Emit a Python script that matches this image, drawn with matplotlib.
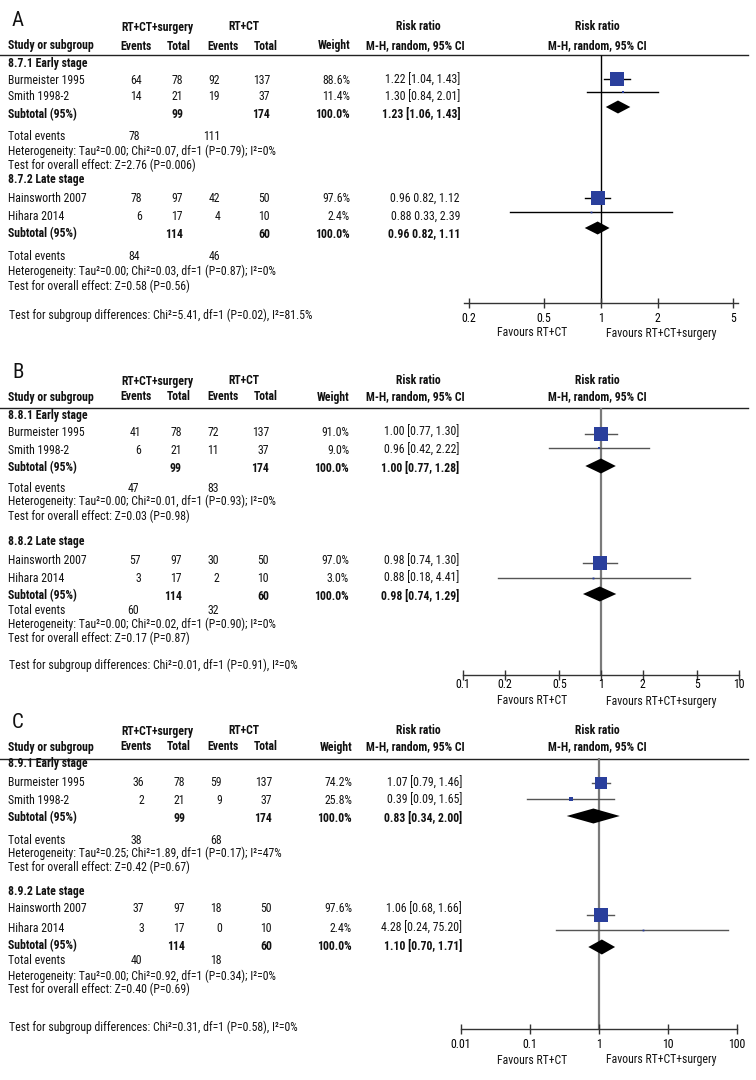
import matplotlib
matplotlib.use("Agg")
import matplotlib.pyplot as plt
from matplotlib import font_manager
from matplotlib.font_manager import FontProperties
import math, os, glob

# ---------------- data ----------------
study_names = ["Burmeister 1995", "Smith 1998-2", "Hainsworth 2007", "Hihara 2014"]
subgroup_titles = {"A": ["8.7.1 Early stage", "8.7.2 Late stage"],
                   "B": ["8.8.1 Early stage", "8.8.2 Late stage"],
                   "C": ["8.9.1 Early stage", "8.9.2 Late stage"]}
total_surg = [78, 21, 97, 17]
total_ctrl = [137, 37, 50, 10]
sub_total_surg = [99, 114]
sub_total_ctrl = [174, 60]

A_ev_surg = [64, 14, 78, 6]
A_ev_ctrl = [92, 19, 42, 4]
A_weight = [88.6, 11.4, 97.6, 2.4]
A_rr = [1.22, 1.30, 0.96, 0.88]
A_lo = [1.04, 0.84, 0.82, 0.33]
A_hi = [1.43, 2.01, 1.12, 2.39]
A_sub_rr = [1.23, 0.96]
A_sub_lo = [1.06, 0.82]
A_sub_hi = [1.43, 1.11]
A_sub_ev_surg = [78, 84]
A_sub_ev_ctrl = [111, 46]
A_het = ["Heterogeneity: Tau²=0.00; Chi²=0.07, df=1 (P=0.79); I²=0%",
         "Heterogeneity: Tau²=0.00; Chi²=0.03, df=1 (P=0.87); I²=0%"]
A_overall = ["Test for overall effect: Z=2.76 (P=0.006)",
             "Test for overall effect: Z=0.58 (P=0.56)"]
A_diff = "Test for subgroup differences: Chi²=5.41, df=1 (P=0.02), I²=81.5%"
A_ticks = [0.2, 0.5, 1, 2, 5]
A_ticklabels = ["0.2", "0.5", "1", "2", "5"]

B_ev_surg = [41, 6, 57, 3]
B_ev_ctrl = [72, 11, 30, 2]
B_weight = [91.0, 9.0, 97.0, 3.0]
B_rr = [1.00, 0.96, 0.98, 0.88]
B_lo = [0.77, 0.42, 0.74, 0.18]
B_hi = [1.30, 2.22, 1.30, 4.41]
B_sub_rr = [1.00, 0.98]
B_sub_lo = [0.77, 0.74]
B_sub_hi = [1.28, 1.29]
B_sub_ev_surg = [47, 60]
B_sub_ev_ctrl = [83, 32]
B_het = ["Heterogeneity: Tau²=0.00; Chi²=0.01, df=1 (P=0.93); I²=0%",
         "Heterogeneity: Tau²=0.00; Chi²=0.02, df=1 (P=0.90); I²=0%"]
B_overall = ["Test for overall effect: Z=0.03 (P=0.98)",
             "Test for overall effect: Z=0.17 (P=0.87)"]
B_diff = "Test for subgroup differences: Chi²=0.01, df=1 (P=0.91), I²=0%"
B_ticks = [0.1, 0.2, 0.5, 1, 2, 5, 10]
B_ticklabels = ["0.1", "0.2", "0.5", "1", "2", "5", "10"]

C_ev_surg = [36, 2, 37, 3]
C_ev_ctrl = [59, 9, 18, 0]
C_weight = [74.2, 25.8, 97.6, 2.4]
C_rr = [1.07, 0.39, 1.06, 4.28]
C_lo = [0.79, 0.09, 0.68, 0.24]
C_hi = [1.46, 1.65, 1.66, 75.20]
C_sub_rr = [0.83, 1.10]
C_sub_lo = [0.34, 0.70]
C_sub_hi = [2.00, 1.71]
C_sub_ev_surg = [38, 40]
C_sub_ev_ctrl = [68, 18]
C_het = ["Heterogeneity: Tau²=0.25; Chi²=1.89, df=1 (P=0.17); I²=47%",
         "Heterogeneity: Tau²=0.00; Chi²=0.92, df=1 (P=0.34); I²=0%"]
C_overall = ["Test for overall effect: Z=0.42 (P=0.67)",
             "Test for overall effect: Z=0.40 (P=0.69)"]
C_diff = "Test for subgroup differences: Chi²=0.31, df=1 (P=0.58), I²=0%"
C_ticks = [0.01, 0.1, 1, 10, 100]
C_ticklabels = ["0.01", "0.1", "1", "10", "100"]

# ---------------- fonts: look for a narrow / condensed sans ----------------
files = set(f.fname for f in font_manager.fontManager.ttflist)
for d in ["/usr/share/fonts", "/usr/local/share/fonts", os.path.expanduser("~/.fonts"),
          os.path.expanduser("~/.local/share/fonts")]:
    for ext in ("ttf", "otf", "TTF", "OTF"):
        files.update(glob.glob(os.path.join(d, "**", "*." + ext), recursive=True))
bybase = {}
for f in files:
    bybase.setdefault(os.path.basename(f).lower(), f)


def pick(names):
    for n in names:
        for ext in (".ttf", ".otf"):
            if (n + ext).lower() in bybase:
                return bybase[(n + ext).lower()]
    return None


font_pairs = [
    ("LiberationSansNarrow-Regular", "LiberationSansNarrow-Bold"),
    ("RobotoCondensed-Regular", "RobotoCondensed-Bold"),
    ("NotoSans-Condensed", "NotoSans-CondensedSemiBold"),
    ("NotoSans-Condensed", "NotoSans-CondensedBold"),
    ("OpenSans-CondLight", "OpenSans-CondBold"),
    ("DejaVuSansCondensed", "DejaVuSansCondensed-Bold"),
]
REG = BOLD = None
for r, b in font_pairs:
    fr_, fb_ = pick([r]), pick([b])
    if fr_ and fb_:
        REG, BOLD = fr_, fb_
        break


def fprop(bold=False, size=9):
    if REG:
        return FontProperties(fname=BOLD if bold else REG, size=size)
    return FontProperties(family=["Liberation Sans", "DejaVu Sans"],
                          weight="bold" if bold else "normal", size=size)


W, H = 756, 1080
fig = plt.figure(figsize=(W / 100, H / 100), dpi=100)
bg = fig.add_axes([0, 0, 1, 1])
bg.set_xlim(0, W)
bg.set_ylim(H, 0)
bg.axis("off")

# fit font size so that the heterogeneity line is about as wide as in the reference
probe = bg.text(0, 0, A_het[0], fontproperties=fprop(False, 10))
fig.canvas.draw()
pw = probe.get_window_extent(fig.canvas.get_renderer()).width
probe.remove()
FS = max(6.0, min(9.0, 10 * 264 / pw))

BLUE = "#2a3f9c"


def txt(x, y, s, ha="left", bold=False, size=None):
    bg.text(x, y, s, ha=ha, va="center", fontproperties=fprop(bold, size or FS),
            color="#111111")


layouts = {
    "A": dict(letter=20, h1=27, h2=46, line=55,
              rows=[64, 80, 97, 115, 136, 151, 165, 179, 198, 216, 234, 257, 271, 286],
              diff=315, ftop=55, faxis=303, tpad=3, ffav=333,
              marks=[79, 92, 107, 198, 212, 228], fl=464, fr=738, t0=469, t1=733,
              dx=0, vcol="black", ccol="black", vlw=1.0, dh=13,
              brackets=[True, False]),
    "B": dict(letter=373, h1=381, h2=397, line=408,
              rows=[415, 432, 450, 468, 488, 501, 516, 542, 561, 578, 596, 610, 624, 638],
              diff=665, ftop=408, faxis=675, tpad=-1.5, ffav=701,
              marks=[434, 448, 466, 563, 578, 594], fl=463, fr=739, t0=463, t1=739,
              dx=-1, vcol="#7a7a7a", ccol="#555555", vlw=1.6, dh=15,
              brackets=[True, True]),
    "C": dict(letter=723, h1=731, h2=747, line=759,
              rows=[764, 783, 800, 818, 840, 853, 867, 891, 909, 928, 946, 961, 976, 989],
              diff=1027, ftop=758, faxis=1029, tpad=3, ffav=1060,
              marks=[783, 799, 816, 915, 930, 947], fl=461, fr=737, t0=461, t1=737,
              dx=2, vcol="#7a7a7a", ccol="#555555", vlw=1.6, dh=15,
              brackets=[True, True]),
}

panels = {
    "A": (A_ev_surg, A_ev_ctrl, A_weight, A_rr, A_lo, A_hi, A_sub_rr, A_sub_lo, A_sub_hi,
          A_sub_ev_surg, A_sub_ev_ctrl, A_het, A_overall, A_diff, A_ticks, A_ticklabels),
    "B": (B_ev_surg, B_ev_ctrl, B_weight, B_rr, B_lo, B_hi, B_sub_rr, B_sub_lo, B_sub_hi,
          B_sub_ev_surg, B_sub_ev_ctrl, B_het, B_overall, B_diff, B_ticks, B_ticklabels),
    "C": (C_ev_surg, C_ev_ctrl, C_weight, C_rr, C_lo, C_hi, C_sub_rr, C_sub_lo, C_sub_hi,
          C_sub_ev_surg, C_sub_ev_ctrl, C_het, C_overall, C_diff, C_ticks, C_ticklabels),
}

for key in ["A", "B", "C"]:
    (ev_s, ev_c, wt, rr, lo, hi, srr, slo, shi, sev_s, sev_c, het, ovr, diff,
     ticks, ticklabels) = panels[key]
    L = layouts[key]
    dx = L["dx"]
    xe1, xt1, xe2, xt2, xw, xci = 142 + dx, 183 + dx, 220 + dx, 270 + dx, 350 + dx, 460 + dx

    bg.text(12, L["letter"], key, ha="left", va="center",
            fontproperties=fprop(False, 15), color="#111111")
    txt(157, L["h1"], "RT+CT+surgery", ha="center", bold=True)
    txt(244, L["h1"], "RT+CT", ha="center", bold=True)
    txt(418, L["h1"], "Risk ratio", ha="center", bold=True)
    txt(597, L["h1"], "Risk ratio", ha="center", bold=True)
    txt(8, L["h2"], "Study or subgroup", bold=True)
    txt(136, L["h2"], "Events", ha="center", bold=True)
    txt(179, L["h2"], "Total", ha="center", bold=True)
    txt(223, L["h2"], "Events", ha="center", bold=True)
    txt(266, L["h2"], "Total", ha="center", bold=True)
    txt(xw, L["h2"], "Weight", ha="right", bold=True)
    txt(415, L["h2"], "M-H, random, 95% CI", ha="center", bold=True)
    txt(597, L["h2"], "M-H, random, 95% CI", ha="center", bold=True)
    bg.plot([0, 748], [L["line"], L["line"]], color="#222222", lw=1.0)

    rows = L["rows"]
    for g in range(2):
        r = rows[g * 7:(g + 1) * 7]
        txt(8, r[0], subgroup_titles[key][g], bold=True)
        for k in range(2):
            i = g * 2 + k
            y = r[1 + k]
            txt(8, y, study_names[i])
            txt(xe1, y, str(ev_s[i]), ha="right")
            txt(xt1, y, str(total_surg[i]), ha="right")
            txt(xe2, y, str(ev_c[i]), ha="right")
            txt(xt2, y, str(total_ctrl[i]), ha="right")
            txt(xw, y, f"{wt[i]:.1f}%", ha="right")
            if L["brackets"][g]:
                s = f"{rr[i]:.2f} [{lo[i]:.2f}, {hi[i]:.2f}]"
            else:
                s = f"{rr[i]:.2f} {lo[i]:.2f}, {hi[i]:.2f}"
            txt(xci, y, s, ha="right")
        y = r[3]
        txt(8, y, "Subtotal (95%)", bold=True)
        txt(xt1, y, str(sub_total_surg[g]), ha="right", bold=True)
        txt(xt2, y, str(sub_total_ctrl[g]), ha="right", bold=True)
        txt(xw, y, "100.0%", ha="right", bold=True)
        if L["brackets"][g]:
            s = f"{srr[g]:.2f} [{slo[g]:.2f}, {shi[g]:.2f}]"
        else:
            s = f"{srr[g]:.2f} {slo[g]:.2f}, {shi[g]:.2f}"
        txt(xci, y, s, ha="right", bold=True)
        txt(8, r[4], "Total events")
        txt(xe1 - 2, r[4], str(sev_s[g]), ha="right")
        txt(xe2, r[4], str(sev_c[g]), ha="right")
        txt(8, r[5], het[g])
        txt(8, r[6], ovr[g])
    txt(9, L["diff"], diff)

    # ---------- forest axes ----------
    fl, fr, top, bot = L["fl"], L["fr"], L["ftop"], L["faxis"]
    ax = fig.add_axes([fl / W, 1 - bot / H, (fr - fl) / W, (bot - top) / H])
    ax.set_xscale("log")
    lt0, lt1 = math.log10(ticks[0]), math.log10(ticks[-1])
    ppd = (L["t1"] - L["t0"]) / (lt1 - lt0)
    xmin = 10 ** (lt0 - (L["t0"] - fl) / ppd)
    xmax = 10 ** (lt1 + (fr - L["t1"]) / ppd)
    ax.set_xlim(xmin, xmax)
    ax.set_ylim(bot, top)
    ax.patch.set_alpha(0)
    for sp in ["top", "left", "right"]:
        ax.spines[sp].set_visible(False)
    ax.spines["bottom"].set_color("#333333")
    ax.spines["bottom"].set_linewidth(1.0)
    ax.set_yticks([])
    ax.set_xticks(ticks)
    ax.set_xticklabels(ticklabels, fontproperties=fprop(False, FS))
    ax.xaxis.set_minor_locator(matplotlib.ticker.NullLocator())
    ax.tick_params(axis="x", direction="inout", length=7, width=1.0, color="#333333",
                   pad=L["tpad"])
    ax.plot([1, 1], [top, bot], color=L["vcol"], lw=L["vlw"], zorder=1,
            solid_capstyle="butt", clip_on=False)

    m = L["marks"]
    for g in range(2):
        for k in range(2):
            i = g * 2 + k
            y = m[g * 3 + k]
            ax.plot([lo[i], hi[i]], [y, y], color=L["ccol"], lw=1.0, zorder=2,
                    clip_on=False)
            side = 1.5 + 13 * wt[i] / 100
            ax.plot([rr[i]], [y], marker="s", ms=side * 0.72, mew=0, color=BLUE,
                    zorder=3, clip_on=False)
        y = m[g * 3 + 2]
        h = L["dh"] / 2
        ax.fill([slo[g], srr[g], shi[g], srr[g]], [y, y - h, y, y + h],
                color="black", lw=0, zorder=3, clip_on=False)

    txt(532, L["ffav"], "Favours RT+CT", ha="center")
    txt(661, L["ffav"], "Favours RT+CT+surgery", ha="center")

fig.savefig("out.png", dpi=100)
